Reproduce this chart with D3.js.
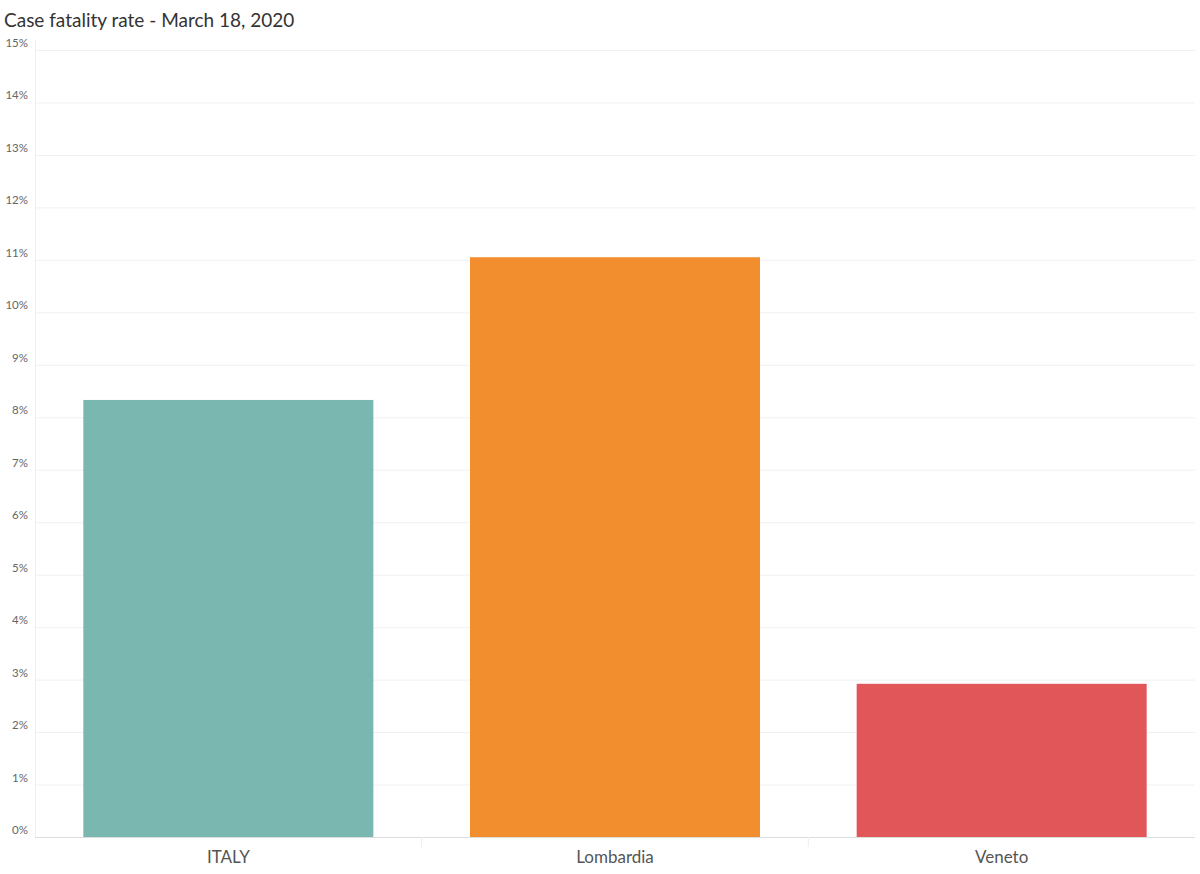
<!DOCTYPE html>
<html><head><meta charset="utf-8">
<script src="https://cdn.jsdelivr.net/npm/d3@7"></script>
<style>body{margin:0;background:#fff;font-family:Lato,"Open Sans",sans-serif}</style>
</head><body><svg id="c" width="1200" height="874"></svg>
<script>
const categories=["ITALY","Lombardia","Veneto"];
const values=[8.33,11.05,2.92];
const colors=["#7ab7b1","#f28e2d","#e15659"];
const yTicks=[0,1,2,3,4,5,6,7,8,9,10,11,12,13,14,15];
const svg=d3.select("#c");
const L=35,R=1195,T=50,B=837;
const x=d3.scaleBand().domain(categories).range([L,R]).paddingInner(0.25).paddingOuter(0.125);
const y=d3.scaleLinear().domain([0,15]).range([B,T]);
svg.append("text").attr("x",4).attr("y",27).attr("font-size",19).attr("fill","#333").text("Case fatality rate - March 18, 2020");
svg.append("g").selectAll("line").data(yTicks).join("line")
 .attr("x1",L).attr("x2",R).attr("y1",d=>y(d)+0.5).attr("y2",d=>y(d)+0.5).attr("stroke","#f0f0f0");
svg.append("line").attr("x1",L+0.5).attr("x2",L+0.5).attr("y1",T-10).attr("y2",B).attr("stroke","#eee");
svg.append("g").selectAll("text").data(yTicks).join("text")
 .attr("x",28).attr("y",d=>y(d)-3).attr("text-anchor","end").attr("font-size",11.5).attr("fill","#666").text(d=>d+"%");
svg.append("g").selectAll("rect").data(categories).join("rect")
 .attr("x",d=>x(d)).attr("width",x.bandwidth()).attr("y",(d,i)=>y(values[i])).attr("height",(d,i)=>B-y(values[i])).attr("fill",(d,i)=>colors[i]);
svg.append("line").attr("x1",L).attr("x2",R).attr("y1",B+0.5).attr("y2",B+0.5).attr("stroke","#ddd");
svg.append("g").selectAll("line").data([1,2]).join("line")
 .attr("x1",i=>L+i*x.step()).attr("x2",i=>L+i*x.step()).attr("y1",B).attr("y2",B+10).attr("stroke","#eee");
svg.append("g").selectAll("text").data(categories).join("text")
 .attr("x",d=>x(d)+x.bandwidth()/2).attr("y",863).attr("text-anchor","middle").attr("font-size",17).attr("fill","#555").text(d=>d);
</script></body></html>
